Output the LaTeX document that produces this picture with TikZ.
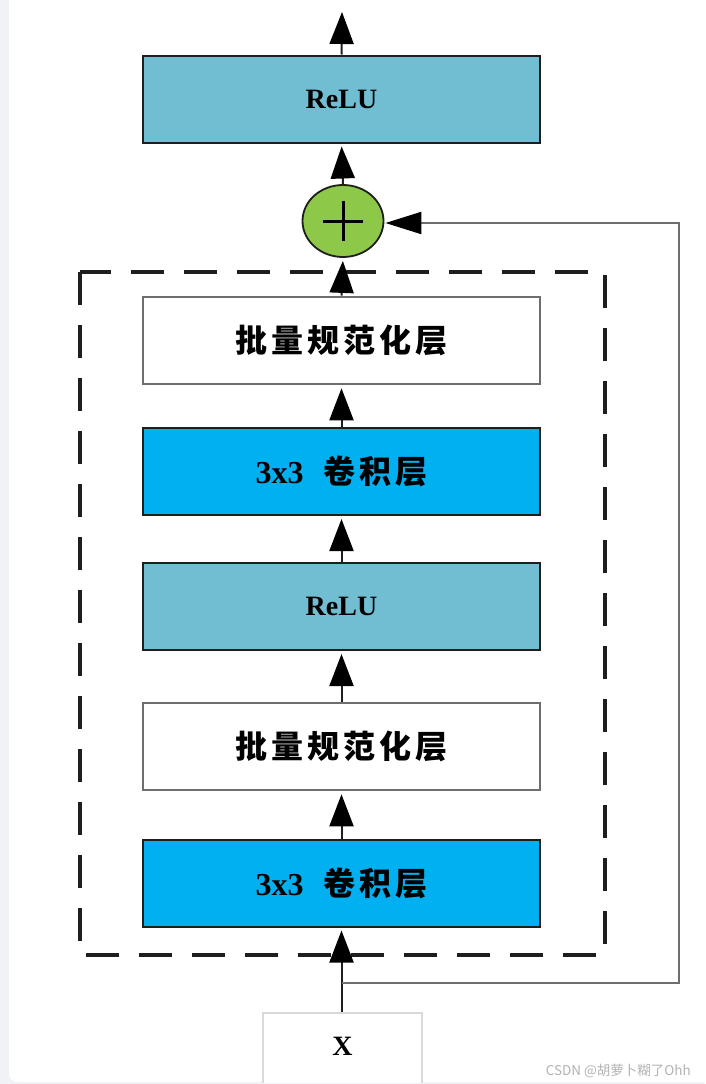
\documentclass[tikz,border=0pt]{standalone}
\usepackage{fontspec}
\setmainfont{Liberation Serif}
\newfontfamily\cjk[LetterSpace=12]{Noto Sans CJK SC}
\newfontfamily\wmfont{Noto Sans CJK SC}
\usetikzlibrary{arrows.meta,shapes.geometric}
\definecolor{relucol}{RGB}{113,189,209}
\definecolor{convcol}{RGB}{0,176,240}
\definecolor{addcol}{RGB}{141,200,72}
\definecolor{bggray}{RGB}{241,242,245}
\definecolor{edgedark}{RGB}{30,30,30}
\definecolor{edgegray}{RGB}{110,110,110}
\begin{document}
\begin{tikzpicture}[x=1pt,y=-1pt,
  layerbox/.style={rectangle,minimum width=397pt,minimum height=87pt,inner sep=0pt,line width=2pt},
  relubox/.style={layerbox,draw=edgedark,fill=relucol,font=\fontsize{28}{30}\selectfont\bfseries},
  convbox/.style={layerbox,draw=edgedark,fill=convcol,font=\fontsize{32}{34}\selectfont\bfseries},
  bnbox/.style={layerbox,draw=edgegray,line width=2.6pt,fill=white,font=\fontsize{32}{34}\selectfont\bfseries\cjk},
  arr/.style={draw=edgedark,line width=2pt,-{Triangle[length=32pt,width=24pt,color=black]},shorten >=3pt},
  skiparr/.style={draw=edgegray,line width=2pt,-{Triangle[length=36pt,width=22pt,color=black]},shorten >=1pt},
  dashbox/.style={draw=edgedark,line width=3.2pt,dash pattern=on 33pt off 20pt},
]
\useasboundingbox (0,0) rectangle (705,1084);
\fill[bggray] (0,0) rectangle (705,1084);
\fill[white,rounded corners=8pt] (9,-20) rectangle (725,1082);
\begin{scope}
\clip (9,-20) rectangle (725,1082);
% input box
\node[rectangle,draw=black!15,line width=1.5pt,fill=white,minimum width=159pt,minimum height=80pt,inner sep=0pt,anchor=north] (xin) at (342.5,1012) {};
\end{scope}
\node[font=\fontsize{28}{30}\selectfont\bfseries] (xlab) at (342.5,1046) {X};
% dashed block
\draw[dashbox] (80,272) rectangle (605,955);
% layers
\node[relubox] (relu2) at (341.5,99) {ReLU};
\node[bnbox] (bn2) at (341.5,340.5) {批量规范化层};
\node[convbox] (conv2) at (341.5,471.5) {3x3\hspace{20pt}{\cjk\fontsize{32}{34}\selectfont 卷积层}};
\node[relubox] (relu1) at (341.5,606.5) {ReLU};
\node[bnbox] (bn1) at (341.5,746.5) {批量规范化层};
\node[convbox] (conv1) at (341.5,883) {3x3\hspace{20pt}{\cjk\fontsize{32}{34}\selectfont 卷积层}};
% addition
\node[ellipse,draw=edgedark,line width=1.8pt,fill=addcol,minimum width=81pt,minimum height=72pt,inner sep=0pt] (add) at (343,221) {};
\draw[line width=3pt,black] ([xshift=-20pt]add.center) -- ([xshift=20pt]add.center);
\draw[line width=3pt,black] ([yshift=-20pt]add.center) -- ([yshift=20pt]add.center);
% output
\coordinate (out) at (342,12);
% connectors
\draw[arr] (xin.north -| conv1.south) -- (conv1.south);
\draw[arr] (conv1.north) -- (bn1.south);
\draw[arr] (bn1.north) -- (relu1.south);
\draw[arr] (relu1.north) -- (conv2.south);
\draw[arr] (conv2.north) -- (bn2.south);
\draw[arr] (bn2.north) -- (add.south);
\draw[arr] (add.north) -- (relu2.south);
\draw[arr,shorten >=0pt] (relu2.north) -- (out);
% skip connection
\coordinate (s0) at (342,983);
\coordinate (s1) at (679,983);
\coordinate (s2) at (679,223);
\draw[skiparr] (s0) -- (s1) -- (s2) -- (s2 -| add.east);
% watermark
\node[anchor=east,text=black!30,font=\wmfont\fontsize{13.5}{15}\selectfont,inner sep=0pt] (wm) at (691,1071) {CSDN @胡萝卜糊了Ohh};
\end{tikzpicture}
\end{document}
